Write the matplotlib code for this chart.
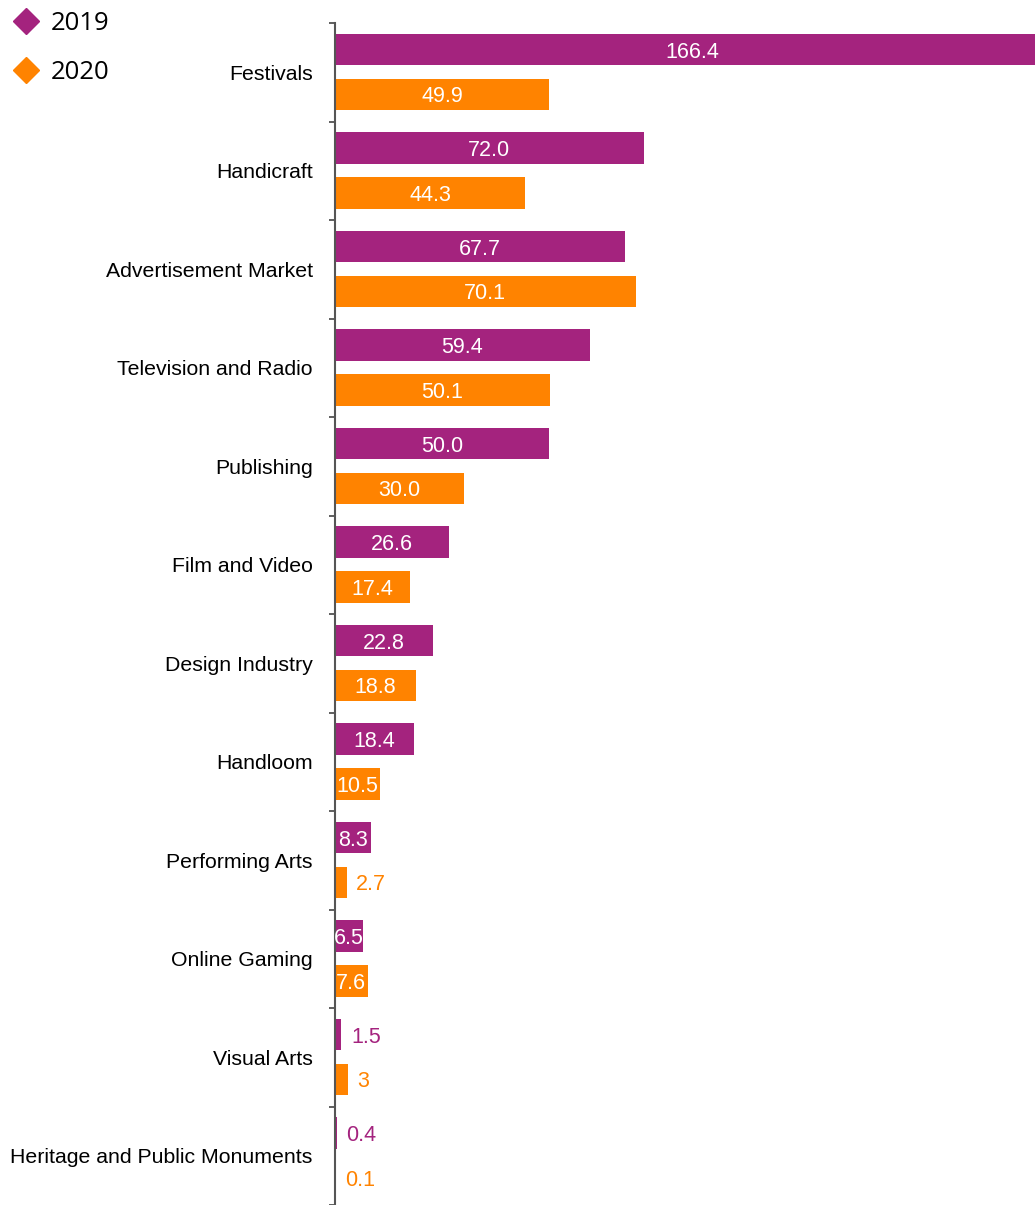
import numpy as np
import matplotlib.pyplot as plt
from matplotlib.lines import Line2D

categories = ['Festivals', 'Handicraft', 'Advertisement Market', 'Television and Radio',
              'Publishing', 'Film and Video', 'Design Industry', 'Handloom',
              'Performing Arts', 'Online Gaming', 'Visual Arts',
              'Heritage and Public Monuments']
values_2019 = [166.4, 72.0, 67.7, 59.4, 50.0, 26.6, 22.8, 18.4, 8.3, 6.5, 1.5, 0.4]
values_2020 = [49.9, 44.3, 70.1, 50.1, 30.0, 17.4, 18.8, 10.5, 2.7, 7.6, 3, 0.1]
labels_2019 = ['166.4', '72.0', '67.7', '59.4', '50.0', '26.6', '22.8', '18.4', '8.3', '6.5', '1.5', '0.4']
labels_2020 = ['49.9', '44.3', '70.1', '50.1', '30.0', '17.4', '18.8', '10.5', '2.7', '7.6', '3', '0.1']

purple = '#a4237e'
orange = '#ff8300'

plt.rcParams['font.family'] = ['Liberation Sans', 'DejaVu Sans']

W, H = 1035, 1205
fig = plt.figure(figsize=(W / 100, H / 100), dpi=100)
ax = fig.add_axes([335 / W, 0, 700 / W, (H - 23) / H])

y = np.arange(len(categories))
h = 0.32

# Barras
ax.barh(y - 0.23, values_2019, height=h, color=purple)
ax.barh(y + 0.225, values_2020, height=h, color=orange)

# Etiquetas de valores
def etiquetas(vals, labs, pos, color):
    for v, lab, yy in zip(vals, labs, pos):
        if v >= 5:
            ax.text(v / 2, yy, lab, ha='center', va='center_baseline', color='white', fontsize=15.5)
        else:
            ax.annotate(lab, (v, yy), xytext=(7, 0), textcoords='offset points',
                        ha='left', va='center_baseline', color=color, fontsize=15.5)

etiquetas(values_2019, labels_2019, y - 0.23, purple)
etiquetas(values_2020, labels_2020, y + 0.225, orange)

ax.set_xlim(0, 163.2)
ax.set_ylim(11.455, -0.5)

# Ticks en los límites de categorías, etiquetas centradas
ax.set_yticks(np.arange(len(categories) + 1) - 0.5)
ax.set_yticklabels([])
ax.set_yticks(y, minor=True)
ax.set_yticklabels(categories, minor=True, fontsize=15.3)
ax.tick_params(axis='y', which='minor', length=0, pad=16)
ax.tick_params(axis='y', which='major', length=4, width=1.2, color='#444444')
ax.set_xticks([])

for s in ['top', 'right', 'bottom']:
    ax.spines[s].set_visible(False)
ax.spines['left'].set_color('#555555')
ax.spines['left'].set_linewidth(1.5)

# Leyenda
handles = [Line2D([], [], marker='D', color=purple, linestyle='none', markersize=13),
           Line2D([], [], marker='D', color=orange, linestyle='none', markersize=13)]
fig.legend(handles, ['2019', '2020'], loc='upper left', bbox_to_anchor=(-0.007, 1.006),
           frameon=False, prop={'family': 'Open Sans', 'size': 18.5},
           handletextpad=0.35, labelspacing=0.95, borderaxespad=0.3, handlelength=1.2)

plt.savefig('out.png', dpi=100)
